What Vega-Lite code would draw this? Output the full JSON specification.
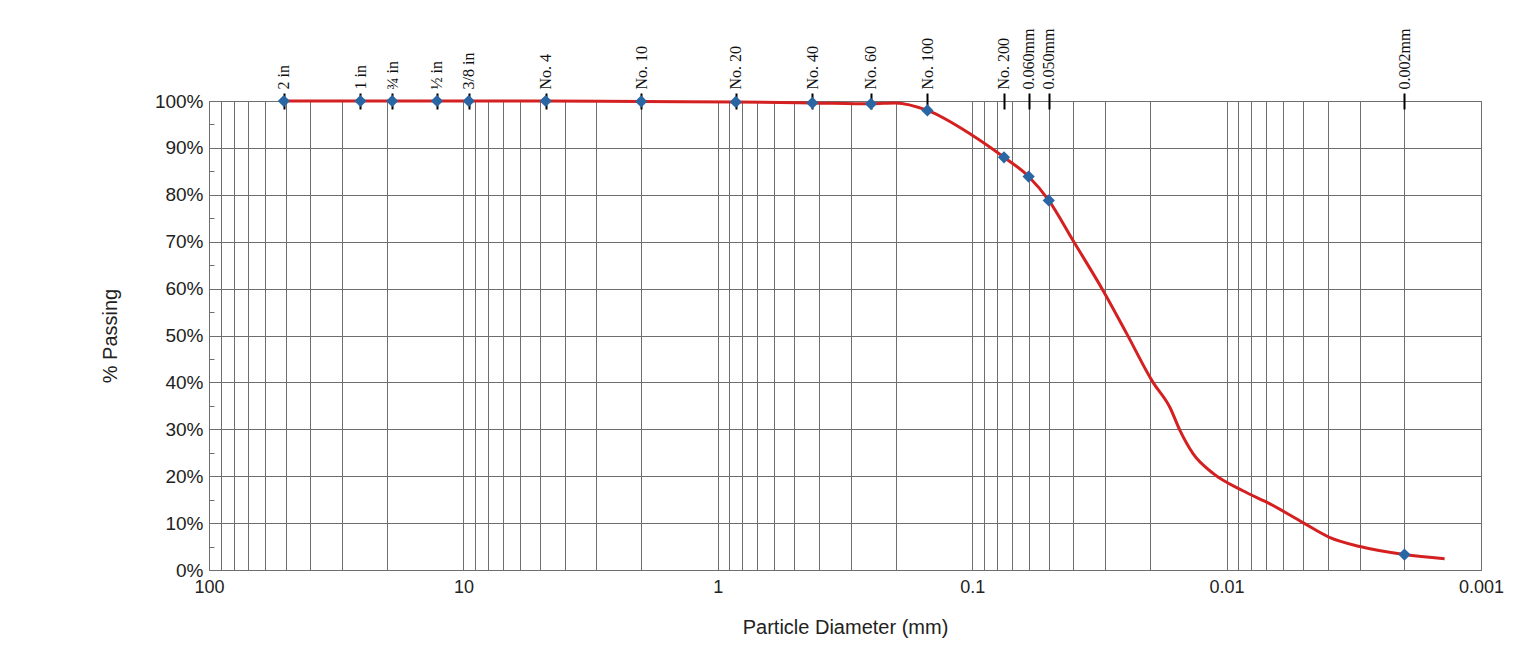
{
  "$schema": "https://vega.github.io/schema/vega-lite/v6.json",
  "width": 1272,
  "height": 469,
  "autosize": {"type": "none"},
  "padding": {"left": 209, "top": 101, "right": 46, "bottom": 75},
  "background": "white",
  "config": {
    "view": {"stroke": "#6e6e6e", "strokeWidth": 1},
    "axis": {"labelFont": "Liberation Sans", "titleFont": "Liberation Sans", "labelColor": "#222222", "titleColor": "#222222", "titleFontWeight": "normal"}
  },
  "datasets": {
    "curve": [
      {"d": 50.8, "p": 100}, {"d": 25.4, "p": 100}, {"d": 19.05, "p": 100}, {"d": 12.7, "p": 100},
      {"d": 9.525, "p": 100}, {"d": 4.75, "p": 100}, {"d": 2.0, "p": 99.9}, {"d": 0.85, "p": 99.8},
      {"d": 0.425, "p": 99.6}, {"d": 0.25, "p": 99.4}, {"d": 0.2, "p": 99.6}, {"d": 0.15, "p": 98.0},
      {"d": 0.1, "p": 92.7}, {"d": 0.075, "p": 88.0}, {"d": 0.06, "p": 83.9}, {"d": 0.05, "p": 78.8},
      {"d": 0.0402, "p": 70.3}, {"d": 0.0306, "p": 59.6}, {"d": 0.0247, "p": 50.4}, {"d": 0.01946, "p": 40.0},
      {"d": 0.01668, "p": 34.6}, {"d": 0.01524, "p": 29.7}, {"d": 0.01355, "p": 24.8}, {"d": 0.0113, "p": 20.6},
      {"d": 0.00863, "p": 16.9}, {"d": 0.00675, "p": 14.1}, {"d": 0.00501, "p": 10.1}, {"d": 0.00392, "p": 6.9},
      {"d": 0.00299, "p": 5.0}, {"d": 0.002, "p": 3.3}, {"d": 0.00139, "p": 2.4}
    ],
    "points": [
      {"d": 50.8, "p": 100}, {"d": 25.4, "p": 100}, {"d": 19.05, "p": 100}, {"d": 12.7, "p": 100},
      {"d": 9.525, "p": 100}, {"d": 4.75, "p": 100}, {"d": 2.0, "p": 99.9}, {"d": 0.85, "p": 99.8},
      {"d": 0.425, "p": 99.6}, {"d": 0.25, "p": 99.4}, {"d": 0.15, "p": 98.0}, {"d": 0.075, "p": 88.0},
      {"d": 0.06, "p": 83.9}, {"d": 0.05, "p": 78.8}, {"d": 0.002, "p": 3.3}
    ]
  },
  "encoding": {
    "y": {
      "field": "p",
      "type": "quantitative",
      "scale": {"domain": [0, 100], "nice": false, "zero": true},
      "axis": {
        "title": "% Passing",
        "values": [0, 5, 10, 15, 20, 25, 30, 35, 40, 45, 50, 55, 60, 65, 70, 75, 80, 85, 90, 95, 100],
        "labelExpr": "datum.value % 10 === 0 ? datum.value + '%' : ''",
        "tickSize": {"condition": {"test": "datum.value % 10 !== 0", "value": -5}, "value": 0},
        "tickColor": "#6e6e6e",
        "grid": true,
        "gridColor": "#6e6e6e",
        "gridOpacity": {"condition": {"test": "datum.value % 10 !== 0", "value": 0}, "value": 1},
        "domain": false,
        "labelFontSize": 19,
        "labelPadding": 6,
        "labelOverlap": false,
        "titleFontSize": 20,
        "titlePadding": 34
      }
    }
  },
  "layer": [
    {
      "data": {"name": "curve"},
      "mark": {"type": "line", "interpolate": "monotone", "color": "#d42020", "strokeWidth": 3},
      "encoding": {
        "x": {
          "field": "d",
          "type": "quantitative",
          "scale": {"type": "log", "domain": [0.001, 100], "reverse": true, "nice": false},
          "axis": {
            "orient": "bottom",
            "title": "Particle Diameter (mm)",
            "values": [100, 90, 80, 70, 60, 50, 40, 30, 20, 10, 9, 8, 7, 6, 5, 4, 3, 2, 1, 0.9, 0.8, 0.7, 0.6, 0.5, 0.4, 0.3, 0.2, 0.1, 0.09, 0.08, 0.07, 0.06, 0.05, 0.04, 0.03, 0.02, 0.01, 0.009, 0.008, 0.007, 0.006, 0.005, 0.004, 0.003, 0.002, 0.001],
            "labelExpr": "indexof([100, 10, 1, 0.1, 0.01, 0.001], datum.value) >= 0 ? format(datum.value, '~g') : ''",
            "ticks": false,
            "domain": false,
            "grid": true,
            "gridColor": "#6e6e6e",
            "labelFontSize": 18,
            "labelPadding": 8,
            "labelOverlap": false,
            "labelFlush": false,
            "titleFontSize": 20,
            "titlePadding": 21
          }
        },
        "order": {"field": "d", "type": "quantitative", "sort": "descending"}
      }
    },
    {
      "data": {"name": "points"},
      "mark": {"type": "point", "shape": "diamond", "filled": true, "color": "#2a66a3", "size": 150, "opacity": 1},
      "encoding": {
        "x": {
          "field": "d",
          "type": "quantitative",
          "scale": {"type": "log", "domain": [0.001, 100], "reverse": true, "nice": false},
          "axis": {
            "orient": "top",
            "title": null,
            "values": [50.8, 25.4, 19.05, 12.7, 9.525, 4.75, 2.0, 0.85, 0.425, 0.25, 0.15, 0.075, 0.06, 0.05, 0.002],
            "labelExpr": "['2 in', '1 in', '¾ in', '½ in', '3/8 in', 'No. 4', 'No. 10', 'No. 20', 'No. 40', 'No. 60', 'No. 100', 'No. 200', '0.060mm', '0.050mm', '0.002mm'][indexof([50.8, 25.4, 19.05, 12.7, 9.525, 4.75, 2.0, 0.85, 0.425, 0.25, 0.15, 0.075, 0.06, 0.05, 0.002], datum.value)]",
            "labelAngle": 270,
            "labelAlign": "left",
            "labelBaseline": "middle",
            "labelFont": "Liberation Serif",
            "labelFontSize": 16,
            "labelColor": "#111111",
            "labelPadding": 4,
            "labelOverlap": false,
            "labelFlush": false,
            "tickSize": 16,
            "tickWidth": 2,
            "tickColor": "#000000",
            "offset": -8,
            "domain": false,
            "grid": false
          }
        }
      }
    }
  ],
  "resolve": {"axis": {"x": "independent"}}
}
